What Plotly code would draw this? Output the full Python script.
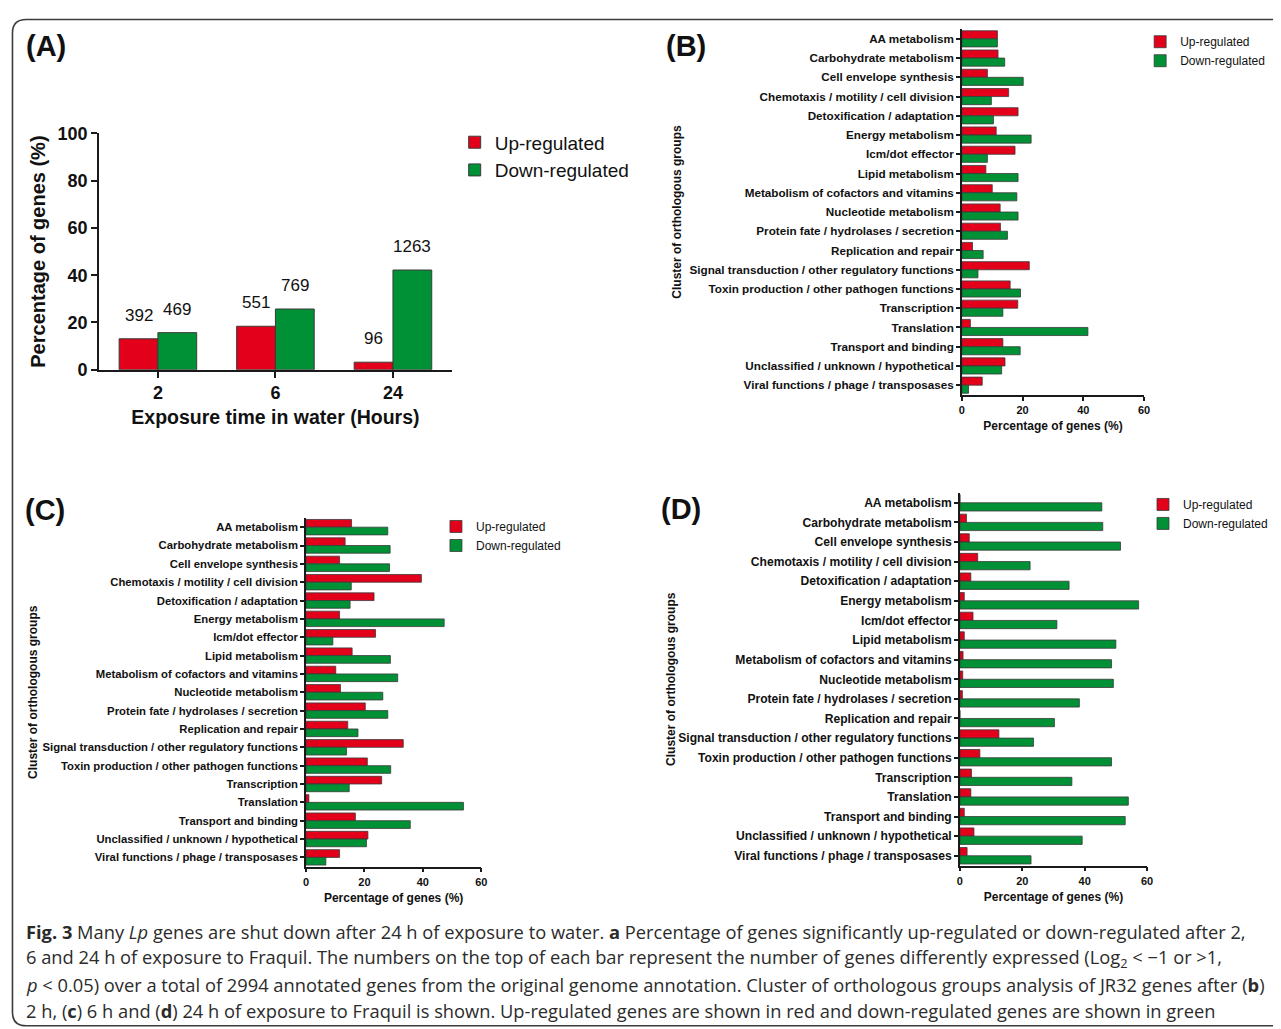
import plotly.graph_objects as go

W, H = 1265, 1029

# ---- data ----
hours = ["2", "6", "24"]
pct_up = [13.1, 18.4, 3.2]
pct_down = [15.7, 25.7, 42.2]
n_up = [392, 551, 96]
n_down = [469, 769, 1263]

cog = [
    "AA metabolism",
    "Carbohydrate metabolism",
    "Cell envelope synthesis",
    "Chemotaxis / motility / cell division",
    "Detoxification / adaptation",
    "Energy metabolism",
    "Icm/dot effector",
    "Lipid metabolism",
    "Metabolism of cofactors and vitamins",
    "Nucleotide metabolism",
    "Protein fate / hydrolases / secretion",
    "Replication and repair",
    "Signal transduction / other regulatory functions",
    "Toxin production / other pathogen functions",
    "Transcription",
    "Translation",
    "Transport and binding",
    "Unclassified / unknown / hypothetical",
    "Viral functions / phage / transposases",
]

# 2 h
up_2h = [11.7, 11.9, 8.4, 15.4, 18.5, 11.3, 17.5, 7.9, 10.0, 12.6,
         12.7, 3.5, 22.2, 15.9, 18.4, 2.8, 13.5, 14.2, 6.7]
down_2h = [11.7, 14.1, 20.2, 9.7, 10.4, 22.8, 8.4, 18.5, 18.1, 18.5,
           15.0, 7.0, 5.3, 19.3, 13.5, 41.5, 19.2, 13.1, 2.2]
# 6 h
up_6h = [15.6, 13.4, 11.5, 39.5, 23.3, 11.5, 23.8, 15.8, 10.2, 11.8,
         20.3, 14.3, 33.3, 21.0, 25.9, 1.0, 16.9, 21.2, 11.5]
down_6h = [28.0, 28.8, 28.6, 15.5, 15.1, 47.3, 9.2, 28.9, 31.4, 26.3,
           28.0, 17.8, 13.9, 29.0, 14.8, 53.9, 35.7, 20.7, 6.8]
# 24 h
up_24h = [0.0, 2.1, 3.0, 5.7, 3.5, 1.4, 4.2, 1.4, 1.0, 0.9,
          0.8, 0.0, 12.5, 6.4, 3.7, 3.5, 1.4, 4.5, 2.3]
down_24h = [45.5, 45.8, 51.5, 22.5, 35.0, 57.3, 31.1, 50.0, 48.6, 49.2,
            38.3, 30.3, 23.6, 48.6, 35.9, 54.0, 53.0, 39.2, 22.8]

RED = "#e3001b"
GREEN = "#009036"
EDGE = "#3a3a3a"
FONT = "Arial, Liberation Sans, sans-serif"


# page pixels (as measured on the screenshot) -> paper fractions
def px(x):
    return ((x - 9.5) / 0.9945) / W


def py(y):
    return 1 - ((y - 18.8) / 0.979) / H


fig = go.Figure()

# panel A
fig.add_trace(go.Bar(x=hours, y=pct_up, name="Up-regulated", marker_color=RED,
                     marker_line=dict(color=EDGE, width=1), width=0.33, offset=-0.33,
                     xaxis="x", yaxis="y", legend="legend"))
fig.add_trace(go.Bar(x=hours, y=pct_down, name="Down-regulated", marker_color=GREEN,
                     marker_line=dict(color=EDGE, width=1), width=0.33, offset=0,
                     xaxis="x", yaxis="y", legend="legend"))

# panels B, C, D
panels = [
    ("x2", "y2", "legend2", up_2h, down_2h),
    ("x3", "y3", "legend3", up_6h, down_6h),
    ("x4", "y4", "legend4", up_24h, down_24h),
]
for xa, ya, lg, up, down in panels:
    fig.add_trace(go.Bar(y=cog, x=up, orientation="h", name="Up-regulated",
                         marker_color=RED, marker_line=dict(color=EDGE, width=0.8),
                         width=0.42, offset=-0.42, xaxis=xa, yaxis=ya, legend=lg))
    fig.add_trace(go.Bar(y=cog, x=down, orientation="h", name="Down-regulated",
                         marker_color=GREEN, marker_line=dict(color=EDGE, width=0.8),
                         width=0.42, offset=0, xaxis=xa, yaxis=ya, legend=lg))

# counts above the bars of panel A (category index as x, since labels look numeric)
for i, (v, n) in enumerate(zip(pct_up, n_up)):
    fig.add_annotation(x=i - 0.165, y=v, text=str(n), xref="x", yref="y", showarrow=False,
                       yshift=12, yanchor="bottom",
                       font=dict(size=17, color="#111", family=FONT))
for i, (v, n) in enumerate(zip(pct_down, n_down)):
    fig.add_annotation(x=i + 0.165, y=v, text=str(n), xref="x", yref="y", showarrow=False,
                       yshift=12, yanchor="bottom",
                       font=dict(size=17, color="#111", family=FONT))

axis_common = dict(showline=True, linecolor="#1a1a1a", ticks="outside",
                   tickcolor="#1a1a1a", showgrid=False, zeroline=False)

fig.update_layout(
    width=W, height=H,
    margin=dict(l=0, r=0, t=0, b=0),
    paper_bgcolor="white", plot_bgcolor="white",
    font=dict(family=FONT, color="#111"),
    barmode="overlay",
    xaxis=dict(**axis_common, domain=[px(99), px(457)], anchor="y", type="category",
               range=[-0.5, 2.5], linewidth=2.2, tickwidth=2, ticklen=6,
               tickfont=dict(size=18, family=FONT, weight="bold"),
               title=dict(text="<b>Exposure time in water (Hours)</b>",
                          font=dict(size=19.5), standoff=8)),
    yaxis=dict(**axis_common, domain=[py(370), py(134)], anchor="x", range=[0, 100],
               dtick=20, linewidth=2.2, tickwidth=2, ticklen=6,
               tickfont=dict(size=18, family=FONT, weight="bold"),
               title=dict(text="<b>Percentage of genes (%)</b>",
                          font=dict(size=20), standoff=6)),
)

sub = [
    # x axis, y axis, x domain px, y domain px (bottom, top), label size, title gap
    ("xaxis2", "yaxis2", "x2", "y2", (975, 1160), (395, 30), 11.7, 5),
    ("xaxis3", "yaxis3", "x3", "y3", (309, 487), (866, 518), 11.3, 2),
    ("xaxis4", "yaxis4", "x4", "y4", (973, 1163), (865, 493), 12.1, 0),
]
for xk, yk, xid, yid, (x0, x1), (y0, y1), fs, gap in sub:
    fig.update_layout({
        xk: dict(**axis_common, domain=[px(x0), px(x1)], anchor=yid, range=[0, 60],
                 dtick=20, linewidth=1.5, tickwidth=1.5, ticklen=4,
                 tickfont=dict(size=11, family=FONT, weight="bold"),
                 title=dict(text="<b>Percentage of genes (%)</b>",
                            font=dict(size=12), standoff=7)),
        yk: dict(**axis_common, domain=[py(y0), py(y1)], anchor=xid,
                 autorange="reversed", dtick=1, linewidth=1.5, tickwidth=1.5,
                 ticklen=4, tickfont=dict(size=fs, family=FONT, weight="bold"),
                 title=dict(text="<b>Cluster of orthologous groups</b>",
                            font=dict(size=12), standoff=gap)),
    })

leg_small = dict(font=dict(size=12, family=FONT), bgcolor="rgba(0,0,0,0)",
                 xanchor="left", yanchor="top", tracegroupgap=0, itemwidth=30)
fig.update_layout(
    legend=dict(x=px(460), y=py(124), font=dict(size=19, family=FONT),
                bgcolor="rgba(0,0,0,0)", xanchor="left", yanchor="top"),
    legend2=dict(x=px(1156), y=py(28), **leg_small),
    legend3=dict(x=px(441), y=py(512), **leg_small),
    legend4=dict(x=px(1159), y=py(490), **leg_small),
)

# panel letters
for txt, x, y in [("(A)", 23, 47), ("(B)", 673, 47), ("(C)", 22, 510), ("(D)", 667, 509)]:
    fig.add_annotation(x=px(x), y=py(y), xref="paper", yref="paper", text="<b>" + txt + "</b>",
                       showarrow=False, xanchor="left", yanchor="middle",
                       font=dict(size=29, family=FONT, color="#111"))

# caption
caption = [
    "<b>Fig. 3</b> Many <i>Lp</i> genes are shut down after 24 h of exposure to water. <b>a</b> "
    "Percentage of genes significantly up-regulated or down-regulated after 2,",
    "6 and 24 h of exposure to Fraquil. The numbers on the top of each bar represent the number "
    "of genes differently expressed (Log<sub>2</sub> &lt; \u22121 or &gt;1,",
    "<i>p</i> &lt; 0.05) over a total of 2994 annotated genes from the original genome annotation. "
    "Cluster of orthologous groups analysis of JR32 genes after (<b>b</b>)",
    "2 h, (<b>c</b>) 6 h and (<b>d</b>) 24 h of exposure to Fraquil is shown. Up-regulated genes "
    "are shown in red and down-regulated genes are shown in green",
]
for i, line in enumerate(caption):
    fig.add_annotation(x=px(23), y=py(931 + 26.3 * i), xref="paper", yref="paper", text=line,
                       showarrow=False, xanchor="left", yanchor="middle", align="left",
                       font=dict(size=18.3, family="Open Sans, sans-serif", color="#2b2b2b"))

# rounded frame around the figure (kept just inside the figure's top/left edge)
x0, x1, y0, y1, r = 1.5 / W, px(1300), py(1025), 1 - 1.5 / H, 14
rx, ry = r / W, r / H
frame = (f"M {x0 + rx},{y1} L {x1},{y1} L {x1},{y0} L {x0 + rx},{y0} "
         f"Q {x0},{y0} {x0},{y0 + ry} L {x0},{y1 - ry} Q {x0},{y1} {x0 + rx},{y1} Z")
fig.add_shape(type="path", path=frame, xref="paper", yref="paper",
              line=dict(color="#3c3c3c", width=1.6), layer="below")

fig.write_html("out.html")
